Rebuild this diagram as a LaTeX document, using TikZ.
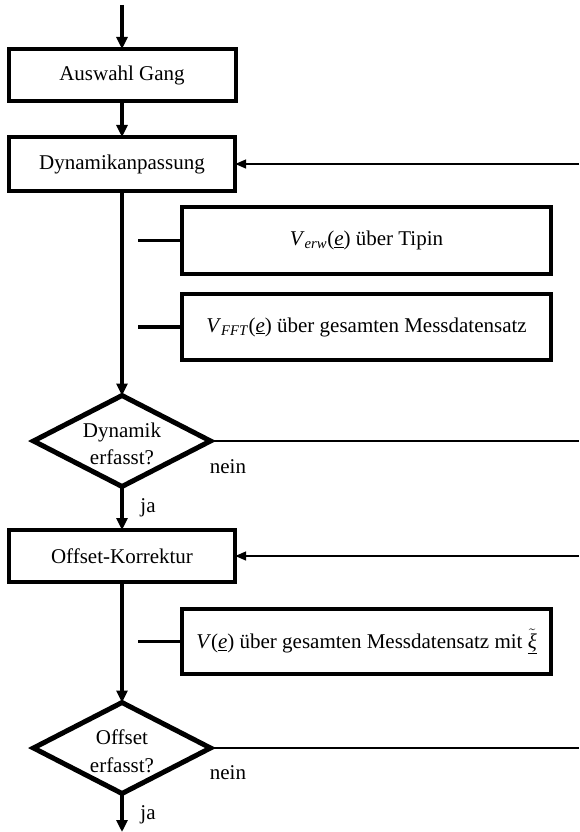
\documentclass[tikz,border=0pt]{standalone}
\usepackage{fontspec}
\setmainfont{Liberation Serif}
\usetikzlibrary{arrows.meta,shapes.geometric}
\newcommand{\ue}{\underline{\textit{e}}}
\begin{document}
\begin{tikzpicture}[x=1pt,y=-1pt,
  txt/.style={font=\fontsize{21}{27.5}\selectfont, inner sep=0pt},
  box/.style={txt, draw, line width=4pt, outer sep=0pt},
  dia/.style={diamond, draw, line width=5pt, inner sep=0pt, outer sep=0pt},
  flow/.style={line width=4pt, -{Triangle[length=12pt,width=11pt]}},
  back/.style={line width=2.5pt, -{Triangle[length=11pt,width=8.5pt]}},
  plain/.style={line width=2.5pt},
  stub/.style={line width=3.3pt}]
\useasboundingbox (0,0) rectangle (579,832);
% nodes
\coordinate (start) at (122,5);
\node[box, minimum width=227, minimum height=52] (ausw) at (122,75) {Auswahl Gang};
\node[box, minimum width=226, minimum height=54] (dyn) at (122,164) {Dynamikanpassung};
\node[box, minimum width=369, minimum height=67] (verw) at (366.5,240.5)
  {\textit{V}\textsubscript{\textit{erw}}(\ue) über Tipin};
\node[box, minimum width=369, minimum height=66] (vfft) at (366.5,327)
  {\textit{V}\textsubscript{\textit{FFT}}(\ue) über gesamten Messdatensatz};
\node[dia, minimum width=177, minimum height=91] (d1) at (122,441) {};
\node[txt, align=center] (d1t) at (122,444) {Dynamik\\erfasst?};
\node[box, minimum width=226, minimum height=52] (off) at (122,556) {Offset-Korrektur};
\node[box, minimum width=369, minimum height=65] (ve) at (366.5,641.5)
  {\textit{V}(\ue) über gesamten Messdatensatz mit \underline{$\tilde{\mbox{\textit{ξ}}}$}};
\node[dia, minimum width=177, minimum height=91] (d2) at (122,748) {};
\node[txt, align=center] (d2t) at (122,751) {Offset\\erfasst?};
\coordinate (end) at (122,832);
% label nodes
\node[txt] (n1) at (228,467) {nein};
\node[txt] (j1) at (148,508) {ja};
\node[txt] (n2) at (228,773) {nein};
\node[txt] (j2) at (148,815) {ja};
% free ends
\coordinate (r1) at (579,164);
\coordinate (r2) at (579,441);
\coordinate (r3) at (579,556);
\coordinate (r4) at (579,748);
\coordinate (s1) at (138,240.5);
\coordinate (s2) at (138,327);
\coordinate (s3) at (138,641.5);
% main flow
\draw[flow] (start) -- (ausw.north);
\draw[flow] (ausw.south) -- (dyn.north);
\draw[flow] (dyn.south) -- (d1.north);
\draw[flow] (d1.south) -- (off.north);
\draw[flow] (off.south) -- (d2.north);
\draw[flow] (d2.south) -- (end);
% side lines
\draw[back] (r1) -- (dyn.east);
\draw[plain] (d1.east) -- (r2);
\draw[back] (r3) -- (off.east);
\draw[plain] (d2.east) -- (r4);
\draw[stub] (s1) -- (verw.west);
\draw[stub] (s2) -- (vfft.west);
\draw[stub] (s3) -- (ve.west);
\end{tikzpicture}
\end{document}
